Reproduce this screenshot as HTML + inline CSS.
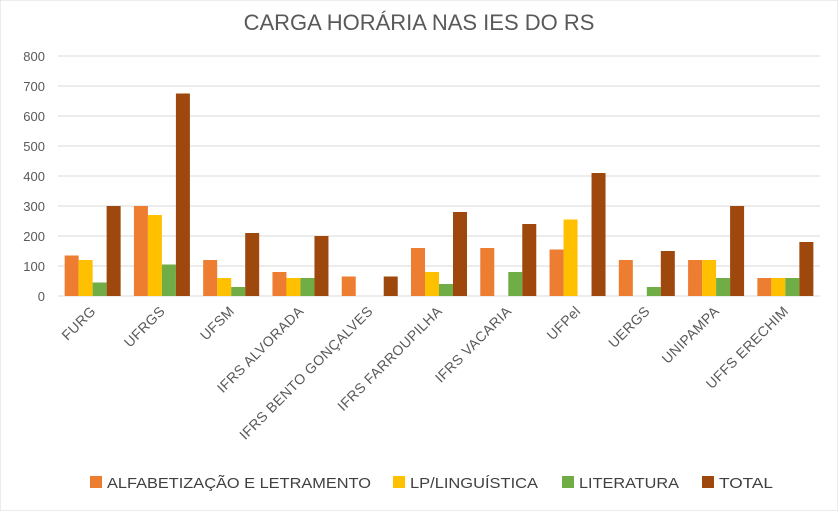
<!DOCTYPE html>
<html><head><meta charset="utf-8"><style>
body{margin:0;background:#fff;}
svg{display:block;font-family:"Liberation Sans",sans-serif;}
</style></head><body>
<svg id="chart" width="838" height="511" viewBox="0 0 838 511">
<rect x="0" y="0" width="838" height="511" fill="#fff" stroke="#d9d9d9"/>
<text x="419" y="30" text-anchor="middle" font-size="22" fill="#595959">CARGA HORÁRIA NAS IES DO RS</text>
<g id="grid"></g><g id="bars"></g><g id="xlabels"></g>
<g id="legend"></g>
</svg>
<script>
const categories=["FURG","UFRGS","UFSM","IFRS ALVORADA","IFRS BENTO GONÇALVES","IFRS FARROUPILHA","IFRS VACARIA","UFPel","UERGS","UNIPAMPA","UFFS ERECHIM"];
const alfabetizacao=[135,300,120,80,65,160,160,155,120,120,60];
const linguistica=[120,270,60,60,0,80,0,255,0,120,60];
const literatura=[45,105,30,60,0,40,80,0,30,60,60];
const total=[300,675,210,200,65,280,240,410,150,300,180];
const yTicks=[0,100,200,300,400,500,600,700,800];
const seriesNames=["ALFABETIZAÇÃO E LETRAMENTO","LP/LINGUÍSTICA","LITERATURA","TOTAL"];
const colors=["#ed7d31","#ffc000","#70ad47","#9e480e"];
const ns="http://www.w3.org/2000/svg";
const x0=58,x1=820,y0=296,yTop=56;
const yScale=v=>y0-(v/800)*(y0-yTop);
const bandW=(x1-x0)/categories.length;
const xBand=i=>x0+i*bandW;
function mk(t,a){const e=document.createElementNS(ns,t);for(const k in a)e.setAttribute(k,a[k]);return e;}
const grid=document.getElementById('grid');
yTicks.forEach(t=>{
 const l=mk('line',{x1:x0,x2:x1,y1:yScale(t),y2:yScale(t),stroke:'#d9d9d9','stroke-width':1});
 
 
 grid.appendChild(l);
 const tx=mk('text',{x:45,y:yScale(t)+5,'text-anchor':'end','font-size':13,fill:'#595959'});
 tx.textContent=t;
 
 
 grid.appendChild(tx);
});
const series=[alfabetizacao,linguistica,literatura,total];
const bw=14, gOff=(bandW-4*bw)/2;
const bars=document.getElementById('bars');
categories.forEach((c,i)=>{
 series.forEach((s,j)=>{
  if(s[i]<=0)return;
  const r=mk('rect',{x:xBand(i)+gOff+j*bw,y:yScale(s[i]),width:bw,height:y0-yScale(s[i]),fill:colors[j]});
  
  
  bars.appendChild(r);
 });
 const cx=xBand(i)+bandW/2+4;
 const t=mk('text',{x:cx,y:312,'text-anchor':'end','font-size':14,fill:'#595959','letter-spacing':0.4,transform:`rotate(-45 ${cx} 312)`});
 t.textContent=c;
 
 
 document.getElementById('xlabels').appendChild(t);
});
const lx=[90,393,562,702];
const lw=[264,128,100,54];
const leg=document.getElementById('legend');
seriesNames.forEach((n,j)=>{
 const g=mk('g',{});
 
 
 g.appendChild(mk('rect',{x:lx[j],y:476,width:12,height:12,fill:colors[j]}));
 const t=mk('text',{x:lx[j]+17,y:488,'font-size':15,fill:'#404040',textLength:lw[j],lengthAdjust:'spacingAndGlyphs'});
 t.textContent=n;g.appendChild(t);leg.appendChild(g);
});
</script>
</body></html>
